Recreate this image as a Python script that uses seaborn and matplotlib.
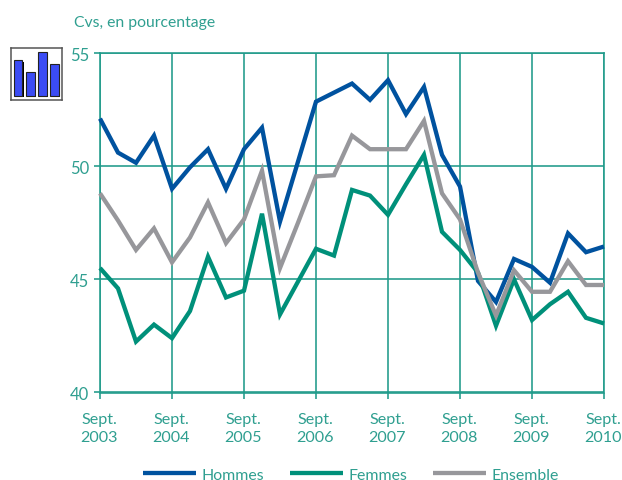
import matplotlib
matplotlib.use("Agg")
import matplotlib.pyplot as plt
import matplotlib.transforms as mtrans
import pandas as pd
import seaborn as sns

hommes = [52.1, 50.6, 50.15, 51.35, 49.0, 49.95, 50.75, 49.0, 50.75, 51.7, 47.55, 50.2, 52.85, 53.25, 53.65,
          52.93, 53.8, 52.3, 53.5, 50.5, 49.1, 44.93, 44.0, 45.9, 45.55, 44.85, 47.03, 46.2, 46.45]
femmes = [45.5, 44.6, 42.25, 43.0, 42.4, 43.6, 46.0, 44.2, 44.5, 47.9, 43.45, 44.9, 46.35, 46.05, 48.95,
          48.7, 47.85, 49.2, 50.5, 47.1, 46.3, 45.3, 42.95, 45.0, 43.2, 43.9, 44.45, 43.3, 43.05]
ensemble = [48.8, 47.6, 46.3, 47.25, 45.75, 46.85, 48.4, 46.6, 47.65, 49.8, 45.5, 47.5, 49.55, 49.6, 51.35,
            50.75, 50.75, 50.75, 52.0, 48.8, 47.65, 45.3, 43.4, 45.4, 44.45, 44.45, 45.8, 44.75, 44.75]
quarters = list(range(29))
year_ticks = [0, 4, 8, 12, 16, 20, 24, 28]
year_labels = ["Sept.\n2003", "Sept.\n2004", "Sept.\n2005", "Sept.\n2006",
               "Sept.\n2007", "Sept.\n2008", "Sept.\n2009", "Sept.\n2010"]
y_ticks = [40, 45, 50, 55]
icon_bars = [4, 2.65, 5, 3.55]

TEAL = "#1f9a8a"
TEXT = "#2f9f90"
palette = {"Hommes": "#00529f", "Femmes": "#00907a", "Ensemble": "#97979b"}

df = pd.DataFrame({"t": quarters, "Hommes": hommes, "Femmes": femmes, "Ensemble": ensemble})
long = df.melt(id_vars="t", var_name="serie", value_name="val")

sns.set_style("white")
plt.rcParams["font.family"] = ["Lato", "DejaVu Sans"]

W, H = 622, 481
fig = plt.figure(figsize=(W / 100, H / 100), dpi=100)
L, R, T, B = 100, 604, 54, 393.5
ax = fig.add_axes([L / W, 1 - B / H, (R - L) / W, (B - T) / H])

sns.lineplot(data=long, x="t", y="val", hue="serie", hue_order=list(palette), palette=palette,
             linewidth=3.1, ax=ax, legend=False, solid_joinstyle="miter", solid_capstyle="butt",
             clip_on=False, zorder=3)

ax.set_xlim(0, 28)
ax.set_ylim(40, 55)
ax.set_xticks(year_ticks, year_labels)
ax.set_yticks(y_ticks)
ax.set_xlabel("")
ax.set_ylabel("")
ax.grid(True, color=TEAL, linewidth=1.15)
ax.set_axisbelow(True)
for s in ax.spines.values():
    s.set_color(TEAL)
    s.set_linewidth(1.15)
ax.tick_params(axis="both", colors=TEAL, labelcolor=TEXT, length=4.5, width=1.15, left=True, bottom=True)
ax.tick_params(axis="x", labelsize=11.6, pad=9.5)
ax.tick_params(axis="y", labelsize=12, pad=3.5)
shift = mtrans.ScaledTranslation(-1 / 100, 0, fig.dpi_scale_trans)
for lab in ax.get_xticklabels():
    lab.set_linespacing(1.38)
    lab.set_transform(lab.get_transform() + shift)

fig.text(74 / W, 1 - 22.5 / H, "Cvs, en pourcentage", color=TEXT, fontsize=11.3, va="center", ha="left")

# legend
handles = [plt.Line2D([], [], color=c, lw=3.1, solid_capstyle="butt") for c in palette.values()]
leg = fig.legend(handles, list(palette), loc="center", bbox_to_anchor=(351 / W, 1 - 475.5 / H), ncol=3,
                 frameon=False, fontsize=11.4, handlelength=3.35, handletextpad=0.32, columnspacing=1.64,
                 labelcolor=TEXT, borderpad=0)

# icon
icon = fig.add_axes([10.5 / W, 1 - 100.5 / H, 51.5 / W, 51.5 / H])
icon.bar(range(4), icon_bars, width=0.72, color="#3b4cf5", edgecolor="#222222", linewidth=0.8, zorder=2)
icon.bar([i + 0.11 for i in range(4)], icon_bars, width=0.74, bottom=-0.14, color="black", linewidth=0, zorder=1)
icon.set_xlim(-0.62, 3.62)
icon.set_ylim(-0.45, 5.4)
icon.set_xticks([])
icon.set_yticks([])
for s in icon.spines.values():
    s.set_color("#555555")
    s.set_linewidth(1.1)

fig.savefig("out.png", dpi=100)
